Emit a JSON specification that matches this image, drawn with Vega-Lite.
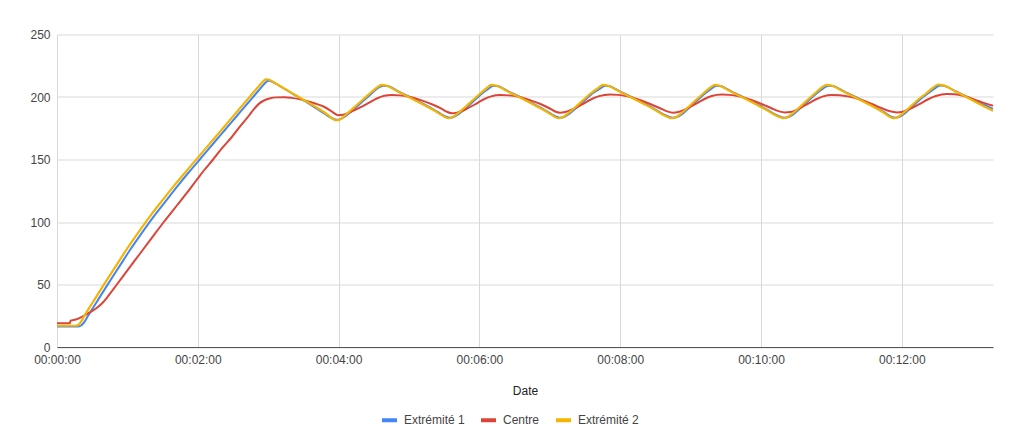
{
 "$schema": "https://vega.github.io/schema/vega-lite/v6.json",
 "width": 936,
 "height": 312.5,
 "autosize": {"type": "none"},
 "padding": {"left": 57, "top": 34.5, "right": 31, "bottom": 87},
 "background": "white",
 "config": {"view": {"stroke": null}, "font": "Liberation Sans"},
 "datasets": {
  "e1": [
   [0,16.5],[18.5,16.5],[20.5,17.2],[22.5,19],[26.5,25],[32.5,34],[41.5,47.5],[52.5,63.5],[62.5,78],[72.5,91.5],[82.5,104.5],[92.5,116.5],[102.5,128.5],[112.5,140],[122.5,151],[132.5,162],[142.5,173],[152.5,184],[162.5,195],[168,201],[173,206.5],[176,209.8],[178,211.8],[179.5,212.8],[181,213],[183,212.4],[187,210.4],[191,208.2],[201,202.5],[211,196.8],[221,190.8],[229,186],[234,183.2],[238,181.8],[241.5,182.3],[245.5,184.5],[251.5,189],[257.5,194],[263.5,199],[269.5,204],[274,207.5],[278,209],[281.5,208.8],[291,204.4],[301,199.8],[311,195],[321,190],[328,186],[331.5,184.2],[334.5,183.5],[338,184],[342.5,186.5],[349.5,192],[356.5,198],[362.5,203],[367.5,206.5],[371.8,209],[375,208.8],[385,204.3],[395,199.8],[405,195],[415,190],[422,186],[425.5,184.2],[428.3,183.5],[432,184],[436.5,186.5],[443.5,192],[450.5,198],[456.5,203],[462.5,206.5],[467,209],[470,208.8],[480,204.3],[490,199.8],[500,195],[510,190],[517,186],[521.5,184.2],[525,183.5],[528.5,184],[533,186.5],[539.5,192],[546.5,198],[552.5,203],[557.5,206.5],[562,209],[565,208.8],[575,204.3],[585,199.8],[595,195],[605,190],[612,186],[616.5,184.2],[620,183.5],[623.5,184],[628,186.5],[634.5,192],[641.5,198],[647.5,203],[652.5,206.5],[657.3,209],[661,208.8],[671,204.3],[681,199.8],[691,195],[701,190],[707,186.5],[711,184.2],[714,183.5],[717.5,184],[722,186.5],[728.5,192],[735.5,198],[742.5,203],[747.5,206.5],[752.5,209.3],[756,209],[766,204.5],[776,200],[786,195.5],[797.7,190.5]
  ],
  "c": [
   [0,19],[11,19],[11.5,21],[16,22],[22,24.5],[27.5,27.5],[33.5,31],[38.5,35],[43,40],[47,45],[51,50],[60,61.3],[70,73.8],[80,86.3],[91,100],[102.5,113.6],[110,122.5],[118.5,133],[125,141],[133,150],[141,159.5],[149,168],[156,176.5],[163.5,185],[168,190.5],[172,194.5],[176,197],[181,198.8],[187,199.7],[194,199.8],[200,199.3],[210,197.5],[220,194.8],[228,192],[234,188.5],[239.5,185.5],[244,185.8],[250,188],[258,191.5],[266,195.5],[273,199],[279,201],[285.3,201.6],[292,201.3],[300,200.2],[310,197.5],[320,194],[328,190.5],[332,188.3],[336.4,187],[341,187.5],[348,190],[356,194],[363,197.8],[370,200.5],[377.6,201.6],[385,201.3],[393,200.2],[403,197.5],[413,194],[420,190.8],[424.5,188.4],[428.7,187.5],[433,188],[440,190.5],[448,194.3],[455,198],[462,200.7],[471.3,202],[478,201.7],[486,200.5],[496,197.8],[506,194.2],[514,191],[520,188.5],[525,187.5],[529.5,188],[536.5,190.5],[544,194.3],[551,198],[558,200.8],[566.5,202],[573,201.7],[581,200.5],[591,197.8],[601,194.2],[609,191],[615.5,188.5],[620.5,187.7],[625,188],[632,190.5],[639.5,194.3],[646.5,198],[653,200.5],[660.3,201.6],[667,201.4],[675,200.3],[685,197.8],[695,194.2],[703,191],[710,188.6],[715.6,187.7],[720,188],[727,190.5],[735,194.3],[742,198],[749,200.8],[758.3,202.4],[765,202.2],[773,200.8],[783,197.5],[797.7,193]
  ],
  "e2": [
   [0,17],[16,17],[18,17.6],[20,19.5],[24,26],[30,35],[39,48.5],[50,64.5],[60,79],[70,92.5],[80,105.5],[90,117.5],[100,129.3],[110,140.5],[120,151.5],[130,162.5],[140,173.5],[150,184.5],[160,195.5],[165,201],[171,207.6],[174,210.8],[176,212.8],[177.5,213.9],[179,214.2],[181,213.7],[185,211.6],[190,208.8],[200,203.3],[210,197.8],[220,192.3],[228,187.6],[232,184.8],[235,182.6],[237.5,181.4],[240,181.5],[243,183.2],[247,186.5],[250,189],[256,194],[262,199],[268,204],[272.5,207.5],[276.7,209.7],[280.5,209.2],[290,204.6],[300,199.8],[310,195],[320,190],[327,186],[330.5,184],[333.5,183],[337,183.8],[341,186.5],[348,192],[355,198],[361,203],[366,207],[370.5,209.7],[374,209.2],[384,204.5],[394,199.8],[404,195],[414,190],[421,186],[424.5,184],[427.3,183],[431,183.8],[435,186.5],[442,192],[449,198],[455,203],[461,207],[465.6,209.7],[469,209.2],[479,204.5],[489,199.8],[499,195],[509,190],[516,186],[520.5,184],[523.9,183],[527.5,183.8],[531.5,186.5],[538,192],[545,198],[551,203],[556,207],[560.8,209.7],[564,209.2],[574,204.5],[584,199.8],[594,195],[604,190],[611,186],[615.5,184],[619.1,183],[622.5,183.8],[626.5,186.5],[633,192],[640,198],[646,203],[651,207],[656,209.7],[660,209.2],[670,204.5],[680,199.8],[690,195],[700,190],[706,186.5],[710,184],[712.8,183],[716.5,183.8],[720.5,186.5],[727,192],[734,198],[741,203],[746,207],[751.1,210],[755,209.5],[765,204.8],[775,200],[785,195],[797.7,189]
  ]
 },
 "layer": [
  {
   "data": {"name": "e1"},
   "transform": [{"calculate": "datum[0]", "as": "t"}, {"calculate": "datum[1]", "as": "v"}, {"calculate": "'Extrémité 1'", "as": "s"}],
   "mark": {"type": "line", "strokeWidth": 2, "interpolate": "monotone"},
   "encoding": {
    "x": {"field": "t", "type": "quantitative"},
    "y": {"field": "v", "type": "quantitative"},
    "color": {"field": "s", "type": "nominal"}
   }
  },
  {
   "data": {"name": "c"},
   "transform": [{"calculate": "datum[0]", "as": "t"}, {"calculate": "datum[1]", "as": "v"}, {"calculate": "'Centre'", "as": "s"}],
   "mark": {"type": "line", "strokeWidth": 2, "interpolate": "monotone"},
   "encoding": {
    "x": {"field": "t", "type": "quantitative"},
    "y": {"field": "v", "type": "quantitative"},
    "color": {"field": "s", "type": "nominal"}
   }
  },
  {
   "data": {"name": "e2"},
   "transform": [{"calculate": "datum[0]", "as": "t"}, {"calculate": "datum[1]", "as": "v"}, {"calculate": "'Extrémité 2'", "as": "s"}],
   "mark": {"type": "line", "strokeWidth": 2.2, "interpolate": "monotone"},
   "encoding": {
    "x": {"field": "t", "type": "quantitative"},
    "y": {"field": "v", "type": "quantitative"},
    "color": {"field": "s", "type": "nominal"}
   }
  }
 ],
 "encoding": {
  "x": {"field": "t", "type": "quantitative",
   "scale": {"domain": [0, 797.7], "nice": false, "zero": false},
   "axis": {"values": [0, 120, 240, 360, 480, 600, 720], "labelExpr": "utcFormat(datum.value * 1000, '%H:%M:%S')", "title": "Date", "grid": true, "gridColor": "#d9d9d9", "domainColor": "#555555", "ticks": false, "labelPadding": 7, "labelFontSize": 12, "labelColor": "#444444", "labelFlush": false, "titleFontSize": 12, "titleFontWeight": "normal", "titleColor": "#222222", "titlePadding": 20}},
  "y": {"field": "v", "type": "quantitative",
   "scale": {"domain": [0, 250], "nice": false},
   "axis": {"values": [0, 50, 100, 150, 200, 250], "title": null, "grid": true, "gridColor": "#d9d9d9", "domain": false, "ticks": false, "labelPadding": 7, "labelFontSize": 12, "labelColor": "#444444"}},
  "color": {"field": "s", "type": "nominal",
   "scale": {"domain": ["Extrémité 1", "Centre", "Extrémité 2"], "range": ["#4285F4", "#DB4437", "#F4B400"]},
   "legend": {"orient": "none", "legendX": 323, "legendY": 376, "direction": "horizontal", "title": null, "symbolType": "stroke", "symbolSize": 225, "symbolStrokeWidth": 4, "labelFontSize": 12, "labelColor": "#444444", "columnPadding": 8, "labelOffset": 5}}
 }
}
